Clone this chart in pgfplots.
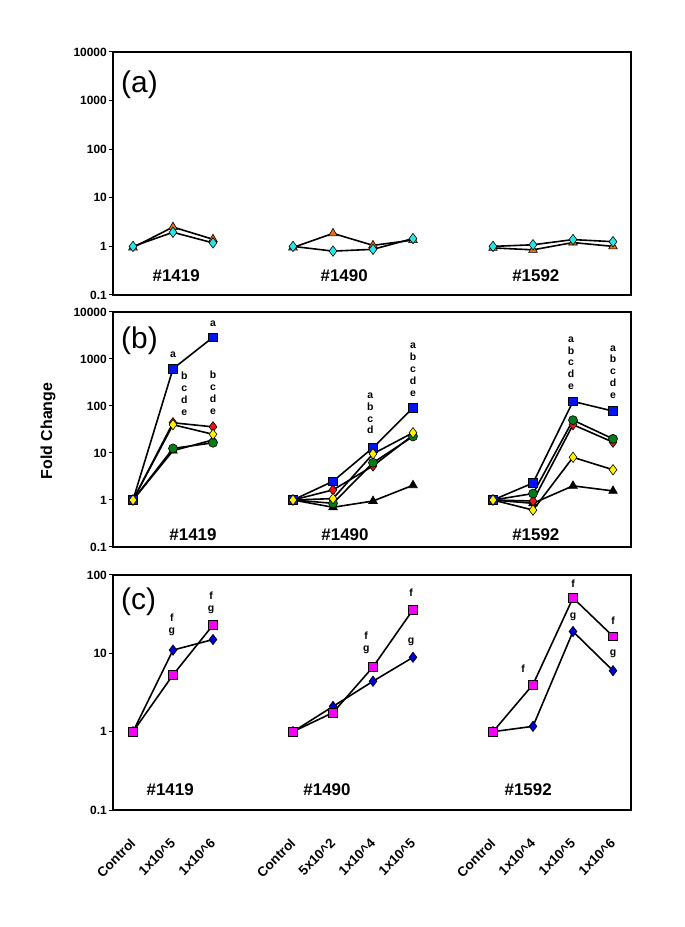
\documentclass[border=0pt]{standalone}
\usepackage{pgfplots}
\pgfplotsset{compat=1.18}
\usepackage{fontspec}
\setmainfont{Liberation Sans}

\definecolor{cblue}{RGB}{0,20,240}
\definecolor{cred}{RGB}{235,20,20}
\definecolor{cyel}{RGB}{255,240,0}
\definecolor{cgreen}{RGB}{0,125,20}
\definecolor{corange}{RGB}{230,110,20}
\definecolor{ccyan}{RGB}{40,230,230}
\definecolor{cmag}{RGB}{245,0,245}
\definecolor{cdblue}{RGB}{0,0,210}

\pgfplotsset{
  every axis/.append style={
    scale only axis, width=518bp,
    xmin=-0.5, xmax=12.45,
    yminorticks=false,
    axis line style={line width=1.8bp},
    tick align=outside, ytick pos=left,
    major tick length=4bp,
    tick style={black, line width=1bp},
    yticklabel style={font=\fontsize{12}{14}\selectfont\bfseries, inner sep=2bp},
    clip=false, unbounded coords=jump,
  },
  every axis plot/.append style={black, line width=1.6bp},
}
\tikzset{
  mtri/.style={mark=triangle*, mark size=5bp, mark options={solid, draw=black, line width=0.6bp, fill=#1}},
  mdia/.style={mark=diamond*, mark size=5.2bp, mark options={solid, draw=black, line width=0.6bp, fill=#1}},
  msq/.style={mark=square*, mark size=4.3bp, mark options={solid, draw=black, line width=0.6bp, fill=#1}},
  mcirc/.style={mark=*, mark size=4.5bp, mark options={solid, draw=black, line width=0.6bp, fill=#1}},
  lt/.style={font=\fontsize{10.5}{12}\selectfont\bfseries, align=center, inner sep=0pt},
  grp/.style={font=\fontsize{17}{19}\selectfont\bfseries},
  pan/.style={font=\fontsize{30}{32}\selectfont, anchor=west, inner sep=0pt},
}

\begin{document}
\begin{tikzpicture}
\path[use as bounding box] (-113bp,-117bp) rectangle (572bp,810bp);

% (a)
\begin{axis}[ymode=log, height=243bp, at={(0,515bp)}, anchor=south west,
  ymin=0.1, ymax=10000, xtick=\empty,
  ytick={0.1,1,10,100,1000,10000}, yticklabels={0.1,1,10,100,1000,10000}]
\addplot[mtri=corange] coordinates {(0,0.95) (1,2.5) (2,1.4) (3,nan) (4,0.95) (5,1.85) (6,1.05) (7,1.35) (8,nan) (9,0.93) (10,0.85) (11,1.2) (12,1.0)};
\addplot[mdia=ccyan] coordinates {(0,1) (1,1.95) (2,1.18) (3,nan) (4,1) (5,0.8) (6,0.87) (7,1.45) (8,nan) (9,1) (10,1.08) (11,1.38) (12,1.25)};
\node[pan] at (axis cs:-0.3,2140) {(a)};
\node[grp] at (axis cs:1.08,0.245) {\#1419};
\node[grp] at (axis cs:5.28,0.245) {\#1490};
\node[grp] at (axis cs:10.07,0.245) {\#1592};
\end{axis}

% (b)
\begin{axis}[ymode=log, height=235bp, at={(0,263bp)}, anchor=south west,
  ymin=0.1, ymax=10000, xtick=\empty,
  ytick={0.1,1,10,100,1000,10000}, yticklabels={0.1,1,10,100,1000,10000}]
\addplot[mtri=black] coordinates {(0,1) (1,11.2) (2,19) (3,nan) (4,1) (5,0.7) (6,0.95) (7,2.06) (8,nan) (9,1) (10,0.85) (11,2.0) (12,1.56)};
\addplot[mdia=cred] coordinates {(0,1) (1,44) (2,36) (3,nan) (4,1) (5,1.64) (6,5.3) (7,24) (8,nan) (9,1) (10,0.95) (11,40) (12,17)};
\addplot[mcirc=cgreen] coordinates {(0,1) (1,12.5) (2,16.5) (3,nan) (4,1) (5,0.85) (6,6.2) (7,22.5) (8,nan) (9,1) (10,1.37) (11,50) (12,20)};
\addplot[msq=cblue] coordinates {(0,1) (1,620) (2,2900) (3,nan) (4,1) (5,2.5) (6,13) (7,92) (8,nan) (9,1) (10,2.3) (11,125) (12,78)};
\addplot[mdia=cyel] coordinates {(0,1) (1,40) (2,25) (3,nan) (4,1) (5,1.07) (6,9.6) (7,27) (8,nan) (9,1) (10,0.61) (11,8.1) (12,4.4)};
\node[pan] at (axis cs:-0.3,2450) {(b)};
\node[grp] at (axis cs:1.5,0.18) {\#1419};
\node[grp] at (axis cs:5.3,0.18) {\#1490};
\node[grp] at (axis cs:10.07,0.18) {\#1592};
\node[lt] at (axis cs:1.0,1230) {a};
\node[lt] at (axis cs:1.28,180) {b\\c\\d\\e};
\node[lt] at (axis cs:2.0,5750) {a};
\node[lt] at (axis cs:2.0,190) {b\\c\\d\\e};
\node[lt] at (axis cs:5.93,70) {a\\b\\c\\d};
\node[lt] at (axis cs:7.0,582) {a\\b\\c\\d\\e};
\node[lt] at (axis cs:10.95,813) {a\\b\\c\\d\\e};
\node[lt] at (axis cs:12.0,525) {a\\b\\c\\d\\e};
\end{axis}

% (c)
\begin{axis}[ymode=log, height=235bp, at={(0,0)}, anchor=south west,
  ymin=0.1, ymax=100,
  ytick={0.1,1,10,100}, yticklabels={0.1,1,10,100},
  xtick={0,1,2,4,5,6,7,9,10,11,12},
  xticklabels={Control,1x10\textasciicircum5,1x10\textasciicircum6,Control,5x10\textasciicircum2,1x10\textasciicircum4,1x10\textasciicircum5,Control,1x10\textasciicircum4,1x10\textasciicircum5,1x10\textasciicircum6},
  xtick style={draw=none},
  xticklabel style={rotate=45, anchor=north east, inner sep=1bp, font=\fontsize{13.5}{15}\selectfont\bfseries, xshift=-18bp, yshift=-13bp}]
\addplot[mdia=cdblue] coordinates {(0,1) (1,11) (2,15) (3,nan) (4,1) (5,2.1) (6,4.4) (7,8.9) (8,nan) (9,1) (10,1.17) (11,19) (12,6.0)};
\addplot[msq=cmag] coordinates {(0,1) (1,5.3) (2,23) (3,nan) (4,1) (5,1.75) (6,6.7) (7,36) (8,nan) (9,1) (10,4.0) (11,51) (12,16.5)};
\node[pan] at (axis cs:-0.3,45) {(c)};
\node[grp] at (axis cs:0.93,0.18) {\#1419};
\node[grp] at (axis cs:4.85,0.18) {\#1490};
\node[grp] at (axis cs:9.88,0.18) {\#1592};
\node[lt] at (axis cs:0.97,22.9) {f\\g};
\node[lt] at (axis cs:1.95,44.7) {f\\g};
\node[lt] at (axis cs:5.83,13.6) {f\\g};
\node[lt] at (axis cs:6.95,59) {f};
\node[lt] at (axis cs:6.95,14.1) {g};
\node[lt] at (axis cs:9.75,6.3) {f};
\node[lt] at (axis cs:11,78) {f};
\node[lt] at (axis cs:11,29.5) {g};
\node[lt] at (axis cs:12,26.3) {f};
\node[lt] at (axis cs:12,9.8) {g};
\end{axis}

\node[rotate=90, font=\fontsize{16}{18}\selectfont\bfseries] at (-65bp,379bp) {Fold Change};
\end{tikzpicture}
\end{document}
